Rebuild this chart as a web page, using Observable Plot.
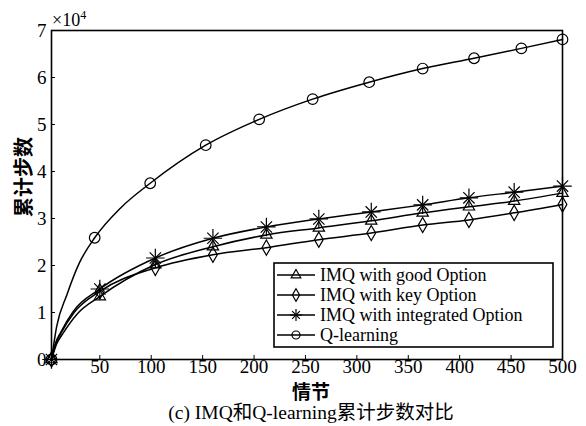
<!DOCTYPE html>
<html>
<head>
<meta charset="utf-8">
<script src="https://cdn.jsdelivr.net/npm/d3@7"></script>
<script src="https://cdn.jsdelivr.net/npm/@observablehq/plot@0.6"></script>
<style>
  html, body { margin: 0; padding: 0; background: white; }
  #wrap { position: relative; width: 586px; height: 426px; font-family: "Liberation Serif", "Noto Sans CJK SC", serif; color: black; }
  .lbl { position: absolute; white-space: nowrap; line-height: 1; }
</style>
</head>
<body>
<div id="wrap"></div>
<script>
// ---- data ----
const seriesNames = ["IMQ with good Option", "IMQ with key Option", "IMQ with integrated Option", "Q-learning"];
const xTicks = [50, 100, 150, 200, 250, 300, 350, 400, 450, 500];
const yTicks = [0, 1, 2, 3, 4, 5, 6, 7];

// marker positions (episodes)
const imqEpisodes = [3, 50, 104, 160, 212, 263, 314, 364, 409, 453, 500];
const qEpisodes   = [3, 45, 99, 153, 205, 257, 312, 364, 414, 460, 500];

// cumulative steps (x10^4) at markers
const goodOption       = [0, 1.34, 2.02, 2.40, 2.65, 2.80, 2.95, 3.12, 3.25, 3.37, 3.54];
const keyOption        = [0, 1.45, 1.95, 2.23, 2.38, 2.55, 2.69, 2.86, 2.97, 3.12, 3.30];
const integratedOption = [0, 1.50, 2.16, 2.58, 2.82, 2.99, 3.14, 3.29, 3.44, 3.56, 3.69];
const qLearning        = [0, 2.59, 3.75, 4.56, 5.11, 5.54, 5.90, 6.19, 6.41, 6.62, 6.81];

// extra curve points (no markers there)
const goodEarlyX = [8, 14, 28],  goodEarlyY = [0.33, 0.55, 0.97];
const keyEarlyX  = [7, 12, 25],  keyEarlyY  = [0.33, 0.55, 1.00];
const intEarlyX  = [7, 12, 24],  intEarlyY  = [0.35, 0.58, 1.02];
const qEarlyX    = [8, 18, 30, 70],  qEarlyY = [0.70, 1.38, 2.05, 3.22];

// ---- build tables ----
const seriesDefs = [
  {name: seriesNames[0], xs: imqEpisodes, ys: goodOption, ex: goodEarlyX, ey: goodEarlyY, sym: ["triangle"]},
  {name: seriesNames[1], xs: imqEpisodes, ys: keyOption, ex: keyEarlyX, ey: keyEarlyY, sym: ["diamond"]},
  {name: seriesNames[2], xs: imqEpisodes, ys: integratedOption, ex: intEarlyX, ey: intEarlyY, sym: ["plus", "times"]},
  {name: seriesNames[3], xs: qEpisodes, ys: qLearning, ex: qEarlyX, ey: qEarlyY, sym: ["circle"]}
];
const lineRows = [];
const markerRows = [];
for (const s of seriesDefs) {
  const pts = s.xs.map((x, i) => ({series: s.name, x, y: s.ys[i]}));
  s.ex.forEach((x, i) => pts.push({series: s.name, x, y: s.ey[i]}));
  pts.sort((a, b) => a.x - b.x);
  lineRows.push(...pts);
  s.xs.forEach((x, i) => markerRows.push({series: s.name, x, y: s.ys[i]}));
}
const symR = {triangle: 4.2, diamond: 4.6, plus: 6, times: 5.2, circle: 5.3};

const dotMarks = [];
for (const s of seriesDefs) {
  for (const sym of s.sym) {
    dotMarks.push(Plot.dot(markerRows.filter(d => d.series === s.name), {
      x: "x", y: "y", symbol: sym, r: symR[sym], stroke: "black", fill: "none", strokeWidth: 1.2
    }));
  }
}

const chart = Plot.plot({
  width: 586, height: 400,
  marginLeft: 51, marginRight: 24, marginTop: 30, marginBottom: 41,
  style: {fontFamily: "Liberation Serif, serif", fontSize: "19px", color: "black", background: "white", overflow: "visible"},
  x: {domain: [3, 500], label: null},
  y: {domain: [0, 7], label: null},
  marks: [
    Plot.line(lineRows, {x: "x", y: "y", z: "series", curve: "monotone-x", stroke: "black", strokeWidth: 1.5}),
    ...dotMarks,
    Plot.axisX({ticks: xTicks, tickSize: -4, tickPadding: 4, label: null, tickFormat: d => String(d), stroke: "black"}),
    Plot.axisY({ticks: yTicks, tickSize: -4, tickPadding: 9, label: null, tickFormat: d => String(d), stroke: "black"}),
    Plot.frame({stroke: "black", strokeWidth: 1.6})
  ]
});
const wrap = document.getElementById("wrap");
chart.style.position = "absolute";
chart.style.left = "0px";
chart.style.top = "0px";
wrap.appendChild(chart);

// exponent label
const exp = document.createElement("div");
exp.className = "lbl";
exp.style.left = "52px"; exp.style.top = "9px"; exp.style.fontSize = "18px";
exp.innerHTML = "×10<sup style='font-size:12px;vertical-align:7px'>4</sup>";
wrap.appendChild(exp);

// y label
const yl = document.createElement("div");
yl.className = "lbl";
yl.textContent = "累计步数";
yl.style.fontSize = "20px"; yl.style.fontWeight = "bold";
yl.style.fontFamily = "'Noto Sans CJK SC', sans-serif";
yl.style.left = "23px"; yl.style.top = "177px";
yl.style.transform = "translate(-50%, -50%) rotate(-90deg)";
wrap.appendChild(yl);

// x label
const xl = document.createElement("div");
xl.className = "lbl";
xl.textContent = "情节";
xl.style.fontSize = "19px"; xl.style.fontWeight = "bold";
xl.style.fontFamily = "'Noto Sans CJK SC', sans-serif";
xl.style.left = "311px"; xl.style.top = "390px";
xl.style.transform = "translate(-50%, -50%)";
wrap.appendChild(xl);

// caption
const cap = document.createElement("div");
cap.className = "lbl";
cap.textContent = "(c) IMQ和Q-learning累计步数对比";
cap.style.fontSize = "19.5px";
cap.style.left = "311px"; cap.style.top = "413px";
cap.style.transform = "translate(-50%, -50%)";
wrap.appendChild(cap);

// legend
const leg = d3.create("svg")
  .attr("width", 281).attr("height", 86)
  .style("position", "absolute").style("left", "273px").style("top", "262px");
leg.append("rect").attr("x", 1).attr("y", 1).attr("width", 279).attr("height", 84)
  .attr("fill", "white").attr("stroke", "black").attr("stroke-width", 1.6);
const legSym = {triangle: d3.symbolTriangle, diamond: d3.symbolDiamond, plus: d3.symbolPlus, times: d3.symbolTimes, circle: d3.symbolCircle};
const legSize = {triangle: 40, diamond: 45, plus: 50, times: 40, circle: 50};
seriesDefs.forEach((s, i) => {
  const g = leg.append("g").attr("transform", `translate(0, ${13 + i * 20})`);
  g.append("line").attr("x1", 4).attr("x2", 42).attr("y1", 0).attr("y2", 0).attr("stroke", "black").attr("stroke-width", 1.5);
  for (const sym of s.sym) {
    g.append("path").attr("d", d3.symbol(legSym[sym], legSize[sym])()).attr("transform", "translate(23,0)")
      .attr("fill", "none").attr("stroke", "black").attr("stroke-width", 1.2);
  }
  g.append("text").attr("x", 47).attr("y", 0).attr("dy", "0.35em")
    .style("font-family", "Liberation Serif, serif").style("font-size", "18px").text(s.name);
});
wrap.appendChild(leg.node());
</script>
</body>
</html>
